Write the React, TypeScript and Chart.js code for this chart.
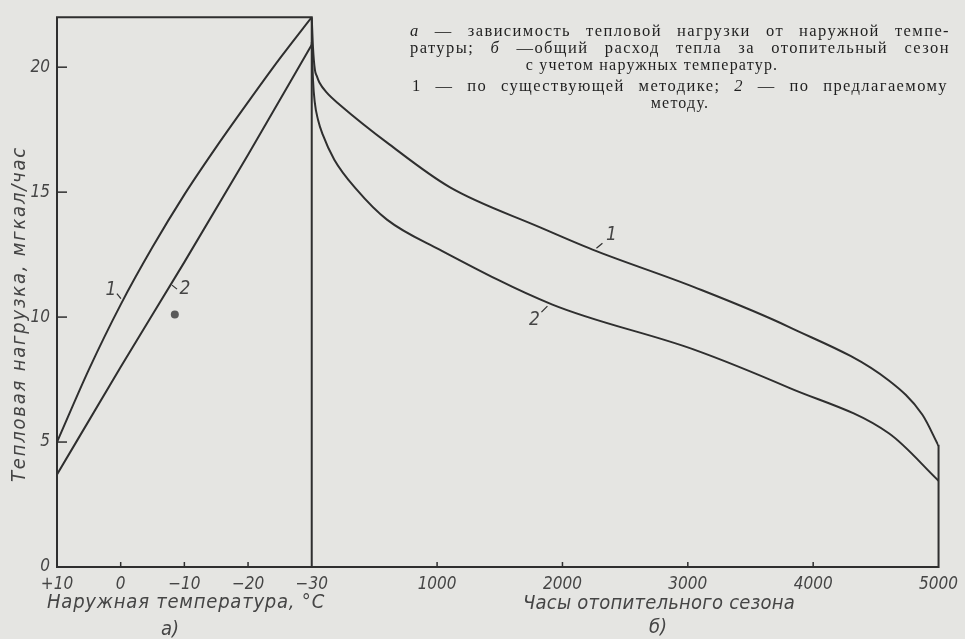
import React, { useEffect, useRef } from "react";
import { Chart, registerables } from "chart.js";
Chart.register(...registerables);

// ---- data ----
const yTickValues = [0, 5, 10, 15, 20];
const tempTicks = [10, 0, -10, -20, -30];
const tempTickLabels = ["+10", "0", "\u221210", "\u221220", "\u221230"];
const hourTicks = [1000, 2000, 3000, 4000, 5000];
const hourTickLabels = ["1000", "2000", "3000", "4000", "5000"];

// a) heat load vs outdoor temperature
const temps1 = [10, 5, 0, -5, -10, -15, -20, -25, -30];
const load1A = [5.0, 7.9, 10.5, 12.8, 14.9, 16.8, 18.6, 20.35, 22.0];
const temps2 = [10, 0, -10, -20, -30];
const load2A = [3.7, 8.0, 12.2, 16.5, 20.9];

// б) heat load over the heating season hours
const hours1 = [0, 10, 25, 40, 60, 120, 223, 622, 1100, 1817, 2240, 3050, 3809, 4606, 4870, 5000];
const load1B = [22.0, 20.8, 19.9, 19.65, 19.4, 18.98, 18.5, 16.9, 15.2, 13.6, 12.7, 11.2, 9.6, 7.45, 6.1, 4.85];
const hours2 = [0, 10, 24, 50, 88, 180, 359, 600, 1020, 1920, 3050, 3809, 4606, 5000];
const load2B = [21.0, 19.5, 18.6, 17.9, 17.3, 16.3, 15.1, 13.9, 12.7, 10.5, 8.7, 7.17, 5.34, 3.45];

// scan spot
const spotTemp = [-8.5];
const spotLoad = [10.1];

// ---- texts ----
const yTitle = "Тепловая нагрузка, мгкал/час";
const xTitleA = "Наружная температура, °C";
const xTitleB = "Часы отопительного сезона";
const panelA = "а)";
const panelB = "б)";
const captionLines: { w: string; it?: boolean }[][] = [
  [{ w: "а", it: true }, { w: "—" }, { w: "зависимость" }, { w: "тепловой" }, { w: "нагрузки" }, { w: "от" }, { w: "наружной" }, { w: "темпе-" }],
  [{ w: "ратуры;" }, { w: "б", it: true }, { w: "—общий" }, { w: "расход" }, { w: "тепла" }, { w: "за" }, { w: "отопительный" }, { w: "сезон" }],
  [{ w: "с учетом наружных температур." }],
  [{ w: "1" }, { w: "—" }, { w: "по" }, { w: "существующей" }, { w: "методике;" }, { w: "2", it: true }, { w: "—" }, { w: "по" }, { w: "предлагаемому" }],
  [{ w: "методу." }],
];

// ---- styling ----
const BG = "#e5e5e2";
const INK = "#2f2f2f";
const TXT = "#454545";
const DRAFT = "'Liberation Sans Narrow', 'DejaVu Sans Condensed', 'DejaVu Sans', sans-serif";
const SERIF = "'Liberation Serif', 'DejaVu Serif', serif";

// combined x coordinate: temperature panel (40 deg) then hours panel
const DEG = 50.8;
const uT = (t: number) => (10 - t) * DEG;
const uH = (h: number) => uT(-30) + h;

const xTickValues = [...tempTicks.map(uT), ...hourTicks.map(uH)];
const xTickLabels = [...tempTickLabels, ...hourTickLabels];

function interp(xs: number[], ys: number[], x: number) {
  for (let i = 0; i < xs.length - 1; i++) {
    const a = xs[i], b = xs[i + 1];
    if ((x - a) * (x - b) <= 0) return ys[i] + ((x - a) / (b - a)) * (ys[i + 1] - ys[i]);
  }
  return ys[ys.length - 1];
}

function fitText(ctx: CanvasRenderingContext2D, text: string, x: number, y: number, width: number) {
  (ctx as any).letterSpacing = "0px";
  const w = ctx.measureText(text).width;
  const n = [...text].length;
  ctx.textAlign = "left";
  ctx.textBaseline = "middle";
  if (w < width) {
    (ctx as any).letterSpacing = (width - w) / n + "px";
    ctx.fillText(text, x, y);
  } else {
    ctx.fillText(text, x, y, width);
  }
  (ctx as any).letterSpacing = "0px";
}

const framePlugin = {
  id: "frameAndTexts",
  beforeDraw(chart: any) {
    const { ctx, width, height } = chart;
    ctx.save();
    ctx.fillStyle = BG;
    ctx.fillRect(0, 0, width, height);
    ctx.restore();
  },
  afterDatasetsDraw(chart: any) {
    const { ctx, chartArea, scales } = chart;
    const { left, top, bottom } = chartArea;
    const x = scales.x, y = scales.y;
    ctx.save();
    ctx.strokeStyle = INK;
    ctx.lineWidth = 2;
    ctx.lineCap = "square";
    const xd = x.getPixelForValue(uT(temps1[temps1.length - 1]));
    const xr = x.getPixelForValue(uH(hours1[hours1.length - 1]));
    const yEnd = y.getPixelForValue(load1B[load1B.length - 1]);
    ctx.beginPath();
    ctx.moveTo(xd, bottom);
    ctx.lineTo(xd, top);
    ctx.lineTo(left, top);
    ctx.lineTo(left, bottom);
    ctx.lineTo(xr, bottom);
    ctx.lineTo(xr, yEnd);
    ctx.stroke();

    // inner tick marks
    ctx.lineWidth = 1.5;
    ctx.lineCap = "butt";
    y.ticks.forEach((t: any) => {
      if (t.value === 0) return;
      const py = y.getPixelForValue(t.value);
      ctx.beginPath();
      ctx.moveTo(left, py);
      ctx.lineTo(left + 10, py);
      ctx.stroke();
    });
    x.ticks.forEach((t: any) => {
      const px = x.getPixelForValue(t.value);
      if (Math.abs(px - left) < 2 || Math.abs(px - xd) < 2 || Math.abs(px - xr) < 8) return;
      ctx.beginPath();
      ctx.moveTo(px, bottom);
      ctx.lineTo(px, bottom - 5);
      ctx.stroke();
    });

    // curve labels
    const labels = [
      { t: "1", u: uT(-0.35), v: interp(temps1.map(uT), load1A, uT(-0.35)), lead: [-2, -2, -6, -7], pos: [-12, -11] },
      { t: "2", u: uT(-7.9), v: interp(temps2.map(uT), load2A, uT(-7.9)), lead: [1, 1, 6, 5], pos: [14, 5] },
      { t: "1", u: uH(2255), v: interp(hours1.map(uH), load1B, uH(2255)), lead: [2, -2, 8, -7], pos: [17, -15] },
      { t: "2", u: uH(1896), v: interp(hours2.map(uH), load2B, uH(1896)), lead: [-2, 3, -8, 9], pos: [-15, 17] },
    ];
    ctx.lineWidth = 1.2;
    ctx.fillStyle = TXT;
    ctx.font = `italic 19px ${DRAFT}`;
    ctx.textAlign = "center";
    ctx.textBaseline = "middle";
    labels.forEach((l) => {
      const px = x.getPixelForValue(l.u);
      const py = y.getPixelForValue(l.v);
      ctx.beginPath();
      ctx.moveTo(px + l.lead[0], py + l.lead[1]);
      ctx.lineTo(px + l.lead[2], py + l.lead[3]);
      ctx.stroke();
      ctx.fillText(l.t, px + l.pos[0], py + l.pos[1]);
    });

    // axis titles
    ctx.fillStyle = TXT;
    ctx.font = `italic 20px ${DRAFT}`;
    fitText(ctx, xTitleA, 47, 603, 278);
    fitText(ctx, xTitleB, 523, 604, 272);
    ctx.font = `italic 20px ${DRAFT}`;
    ctx.textAlign = "center";
    ctx.fillText(panelA, 170, 630);
    ctx.fillText(panelB, 658, 628);

    ctx.save();
    ctx.translate(20, 314);
    ctx.rotate(-Math.PI / 2);
    ctx.font = `italic 20px ${DRAFT}`;
    fitText(ctx, yTitle, -168, 0, 336);
    ctx.restore();

    // caption
    ctx.fillStyle = "#1f1f1f";
    const rows = [
      { y: 32, x0: 410, x1: 950 },
      { y: 49, x0: 410, x1: 950 },
      { y: 66, c: 652 },
      { y: 87, x0: 412, x1: 948 },
      { y: 104, c: 680 },
    ];
    captionLines.forEach((words, i) => {
      const r: any = rows[i];
      ctx.textBaseline = "middle";
      if (r.c !== undefined) {
        ctx.font = `16px ${SERIF}`;
        (ctx as any).letterSpacing = "1.2px";
        ctx.textAlign = "center";
        ctx.fillText(words.map((w) => w.w).join(" "), r.c, r.y);
        (ctx as any).letterSpacing = "0px";
        return;
      }
      (ctx as any).letterSpacing = "1.4px";
      const widths = words.map((w) => {
        ctx.font = `${w.it ? "italic " : ""}16.5px ${SERIF}`;
        return ctx.measureText(w.w).width;
      });
      const total = widths.reduce((a, b) => a + b, 0);
      const gap = (r.x1 - r.x0 - total) / (words.length - 1);
      let cx = r.x0;
      ctx.textAlign = "left";
      words.forEach((w, k) => {
        ctx.font = `${w.it ? "italic " : ""}16.5px ${SERIF}`;
        ctx.fillText(w.w, cx, r.y);
        cx += widths[k] + gap;
      });
      (ctx as any).letterSpacing = "0px";
    });
    ctx.restore();
  },
};

export default function App() {
  const ref = useRef<HTMLCanvasElement>(null);
  useEffect(() => {
    const lineStyle = {
      type: "line" as const,
      borderColor: INK,
      borderWidth: 2,
      pointRadius: 0,
      fill: false,
      cubicInterpolationMode: "monotone" as const,
    };
    const chart = new Chart(ref.current!, {
      type: "line",
      data: {
        datasets: [
          { ...lineStyle, label: "1 (а)", data: temps1.map((t, i) => ({ x: uT(t), y: load1A[i] })) },
          { ...lineStyle, label: "2 (а)", data: temps2.map((t, i) => ({ x: uT(t), y: load2A[i] })) },
          { ...lineStyle, label: "1 (б)", data: hours1.map((h, i) => ({ x: uH(h), y: load1B[i] })) },
          { ...lineStyle, label: "2 (б)", data: hours2.map((h, i) => ({ x: uH(h), y: load2B[i] })) },
          {
            type: "scatter" as const,
            label: "spot",
            data: spotTemp.map((t, i) => ({ x: uT(t), y: spotLoad[i] })),
            pointRadius: 4,
            pointBackgroundColor: "#5a5a5a",
            pointBorderWidth: 0,
            showLine: false,
          },
        ] as any,
      },
      options: {
        responsive: false,
        animation: false,
        devicePixelRatio: 1,
        layout: { padding: { top: 15, right: 25, bottom: 0, left: 0 } },
        plugins: { legend: { display: false }, tooltip: { enabled: false }, title: { display: false } },
        scales: {
          x: {
            type: "linear",
            min: 0,
            max: uH(hours1[hours1.length - 1]),
            grid: { display: false, drawTicks: false },
            border: { display: false },
            afterBuildTicks: (s: any) => {
              s.ticks = xTickValues.map((v) => ({ value: v }));
            },
            afterFit: (s: any) => {
              s.height = 72;
            },
            ticks: {
              autoSkip: false,
              maxRotation: 0,
              minRotation: 0,
              padding: 7,
              color: TXT,
              font: { family: DRAFT, size: 17, style: "italic" },
              callback: (_v: any, i: number) => xTickLabels[i],
            },
          },
          y: {
            type: "linear",
            min: 0,
            max: 22,
            grid: { display: false, drawTicks: false },
            border: { display: false },
            afterBuildTicks: (s: any) => {
              s.ticks = yTickValues.map((v) => ({ value: v }));
            },
            afterFit: (s: any) => {
              s.width = 57;
            },
            ticks: {
              padding: 7,
              color: TXT,
              font: { family: DRAFT, size: 17, style: "italic" },
              callback: (v: any) => String(v),
            },
          },
        },
      },
      plugins: [framePlugin],
    } as any);
    return () => chart.destroy();
  }, []);
  return (
    <div style={{ position: "fixed", left: 0, top: 0, width: 965, height: 639, background: BG }}>
      <canvas ref={ref} width={965} height={639} style={{ display: "block", width: 965, height: 639 }} />
    </div>
  );
}
